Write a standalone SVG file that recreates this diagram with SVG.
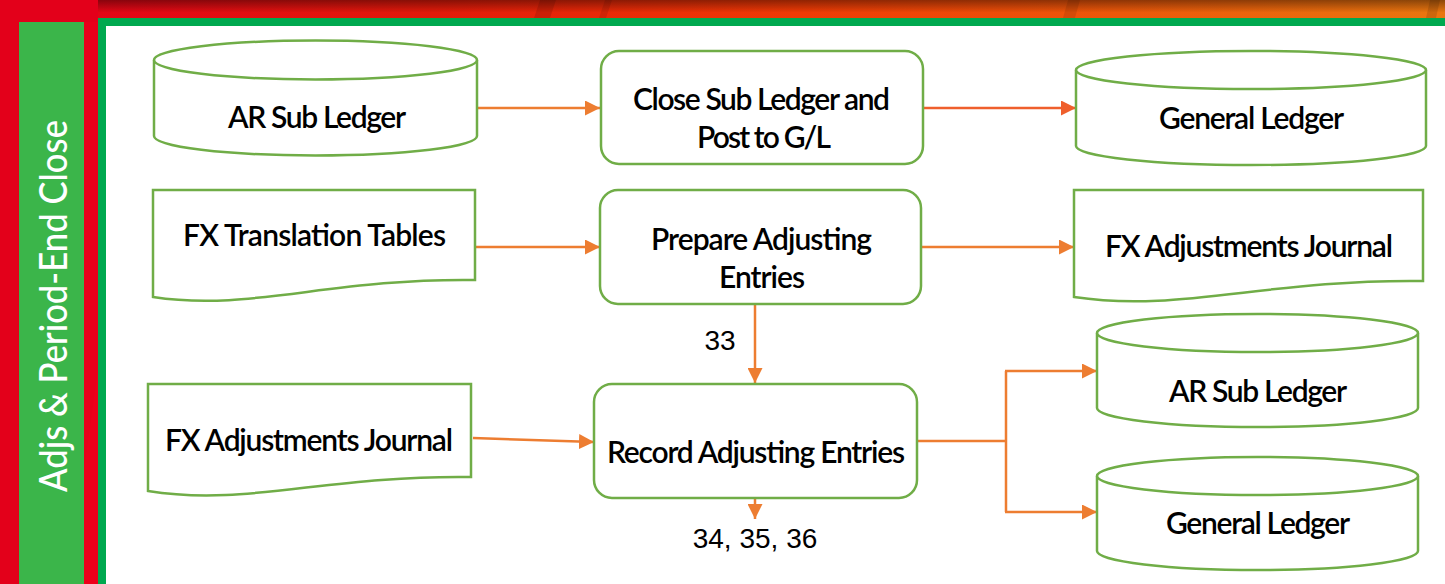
<svg xmlns="http://www.w3.org/2000/svg" width="1445" height="584" viewBox="0 0 1445 584">
  <defs>
    <linearGradient id="banner" x1="0" y1="0" x2="1" y2="0">
      <stop offset="0" stop-color="#e3001a"/>
      <stop offset="0.3" stop-color="#e21a0a"/>
      <stop offset="0.55" stop-color="#ef3a05"/>
      <stop offset="1" stop-color="#e9760f"/>
    </linearGradient>
    <linearGradient id="shade" x1="0" y1="0" x2="0" y2="1">
      <stop offset="0" stop-color="#000" stop-opacity="0.4"/>
      <stop offset="0.7" stop-color="#000" stop-opacity="0"/>
    </linearGradient>
    <marker id="arr" markerUnits="userSpaceOnUse" markerWidth="15" markerHeight="15" refX="15" refY="7.5" orient="auto">
      <path d="M0,0 L15,7.5 L0,15 z" fill="#ed7d31"/>
    </marker>
    <marker id="arrR" markerUnits="userSpaceOnUse" markerWidth="15" markerHeight="15" refX="15" refY="7.5" orient="auto">
      <path d="M0,0 L15,7.5 L0,15 z" fill="#ef5f2c"/>
    </marker>
  </defs>
  <style>
    .shape { fill: #ffffff; stroke: #70ad47; stroke-width: 2.5; }
    .lbl { font-family: Lato, "Liberation Sans", sans-serif; font-size: 30px; font-weight: 600; fill: #000; text-anchor: middle; }
    .num { font-family: "Liberation Sans", Arial, sans-serif; font-size: 28px; fill: #000; text-anchor: middle; }
    .con { fill: none; stroke: #ed7d31; stroke-width: 2.5; }
    .conR { fill: none; stroke: #ef5f2c; stroke-width: 2.5; }
  </style>

  <!-- background frame -->
  <g id="background">
    <rect x="0" y="0" width="1445" height="584" fill="#e3001a"/>
    <rect x="0" y="0" width="1445" height="18" fill="url(#banner)"/>
    <polygon points="540,0 556,0 550,18 534,18" fill="#000" opacity="0.12"/>
    <polygon points="605,0 612,0 606,18 599,18" fill="#000" opacity="0.1"/>
    <polygon points="1068,0 1080,0 1075,18 1063,18" fill="#000" opacity="0.1"/>
    <polygon points="1430,0 1440,0 1436,18 1426,18" fill="#000" opacity="0.12"/>
    <rect x="0" y="0" width="1445" height="18" fill="url(#shade)"/>
    <rect x="0" y="0" width="98" height="22" fill="#e3001a"/>
    <rect x="19" y="22" width="65" height="562" fill="#3bb54a"/>
    <rect x="84" y="22" width="14" height="562" fill="#e8001a"/>
    <polygon points="84,470 98,370 98,584 84,584" fill="#f0001a" opacity="0.6"/>
    <rect x="98" y="18" width="1347" height="8" fill="#00a94f"/>
    <rect x="98" y="18" width="8" height="566" fill="#00a94f"/>
    <rect x="106" y="26" width="1339" height="558" fill="#ffffff"/>
    <text transform="translate(67,306) rotate(-90)" text-anchor="middle" font-family="Lato, 'Liberation Sans', sans-serif" font-size="39" font-weight="500" textLength="372" lengthAdjust="spacingAndGlyphs" fill="#ffffff">Adjs &amp; Period-End Close</text>
  </g>

  <g id="connectors">
    <path class="con" d="M477,108 L600,108" marker-end="url(#arr)"/>
    <path class="conR" d="M922,108 L1076,108" marker-end="url(#arrR)"/>
    <path class="con" d="M475,247 L600,247" marker-end="url(#arr)"/>
    <path class="con" d="M921,247 L1074,247" marker-end="url(#arr)"/>
    <path class="con" d="M755,304 L755,383" marker-end="url(#arr)"/>
    <path class="con" d="M473,438 L594,442" marker-end="url(#arr)"/>
    <path class="con" d="M755,498 L755,519" marker-end="url(#arr)"/>
    <path class="con" d="M917,441 L1006,441 M1006,371 L1006,512"/>
    <path class="con" d="M1005,371 L1097,371" marker-end="url(#arr)"/>
    <path class="con" d="M1005,512 L1097,512" marker-end="url(#arr)"/>
    <text class="num" x="720" y="350">33</text>
    <text class="num" x="755" y="548">34, 35, 36</text>
  </g>

  <g id="ar-sub-ledger-1">
    <path class="shape" d="M154,60 L154,136 A161.5,19.5 0 0 0 477,136 L477,60"/>
    <ellipse class="shape" cx="315.5" cy="60" rx="161.5" ry="19.5"/>
    <text class="lbl" x="317" y="128" textLength="178" lengthAdjust="spacing">AR Sub Ledger</text>
  </g>

  <g id="close-sub-ledger">
    <rect class="shape" x="601" y="51" width="322" height="113" rx="18"/>
    <text class="lbl" x="761.5" y="110" textLength="257" lengthAdjust="spacing">Close Sub Ledger and</text>
    <text class="lbl" x="764" y="148" textLength="134" lengthAdjust="spacing">Post to G/L</text>
  </g>

  <g id="general-ledger-1">
    <path class="shape" d="M1076,70 L1076,146 A175,19 0 0 0 1426,146 L1426,70"/>
    <ellipse class="shape" cx="1251" cy="70" rx="175" ry="19"/>
    <text class="lbl" x="1251.5" y="129" textLength="185" lengthAdjust="spacing">General Ledger</text>
  </g>

  <g id="fx-translation-tables">
    <path class="shape" d="M153,190 L475,190 L475,280 C330,278 250,312 153,297 Z"/>
    <text class="lbl" x="314.5" y="246" textLength="263" lengthAdjust="spacing">FX Translation Tables</text>
  </g>

  <g id="prepare-adjusting-entries">
    <rect class="shape" x="600" y="190" width="321" height="114" rx="18"/>
    <text class="lbl" x="761.5" y="250" textLength="221" lengthAdjust="spacing">Prepare Adjusting</text>
    <text class="lbl" x="762" y="288" textLength="86" lengthAdjust="spacing">Entries</text>
  </g>

  <g id="fx-adjustments-journal-1">
    <path class="shape" d="M1074,190 L1423,190 L1423,281 C1266,279 1180,313 1074,297 Z"/>
    <text class="lbl" x="1249" y="257" textLength="288" lengthAdjust="spacing">FX Adjustments Journal</text>
  </g>

  <g id="fx-adjustments-journal-2">
    <path class="shape" d="M148,384 L471,384 L471,477 C326,475 246,507 148,491 Z"/>
    <text class="lbl" x="309" y="451" textLength="288" lengthAdjust="spacing">FX Adjustments Journal</text>
  </g>

  <g id="record-adjusting-entries">
    <rect class="shape" x="594" y="384" width="323" height="114" rx="18"/>
    <text class="lbl" x="756" y="463" textLength="298" lengthAdjust="spacing">Record Adjusting Entries</text>
  </g>

  <g id="ar-sub-ledger-2">
    <path class="shape" d="M1097,333 L1097,408 A160.5,19 0 0 0 1418,408 L1418,333"/>
    <ellipse class="shape" cx="1257.5" cy="333" rx="160.5" ry="19"/>
    <text class="lbl" x="1258" y="402" textLength="178" lengthAdjust="spacing">AR Sub Ledger</text>
  </g>

  <g id="general-ledger-2">
    <path class="shape" d="M1097,476 L1097,551 A160.5,19 0 0 0 1418,551 L1418,476"/>
    <ellipse class="shape" cx="1257.5" cy="476" rx="160.5" ry="19"/>
    <text class="lbl" x="1258" y="534" textLength="184" lengthAdjust="spacing">General Ledger</text>
  </g>
</svg>
